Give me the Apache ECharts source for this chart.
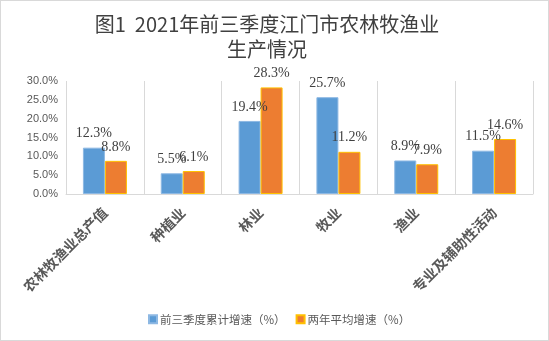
<!DOCTYPE html>
<html><head><meta charset="utf-8">
<script src="https://cdn.jsdelivr.net/npm/echarts@6/dist/echarts.min.js"></script>
<style>
html,body{margin:0;padding:0;background:#fff;}
#c{width:547px;height:339px;border:1px solid #d9d9d9;}
</style></head>
<body><div id="c"></div>
<script>
const categories = ['农林牧渔业总产值','种植业','林业','牧业','渔业','专业及辅助性活动'];
const cumulativeGrowth = [12.3, 5.5, 19.4, 25.7, 8.9, 11.5];
const twoYearAvgGrowth = [8.8, 6.1, 28.3, 11.2, 7.9, 14.6];
const seriesNames = ['前三季度累计增速（%）','两年平均增速（%）'];
const titleText = '图1  2021年前三季度江门市农林牧渔业\n生产情况';

const chart = echarts.init(document.getElementById('c'));
const labelStyle = {
  show: true, position: 'top', distance: 7,
  fontFamily: 'Liberation Serif', fontSize: 14, color: '#404040',
  formatter: p => p.value.toFixed(1) + '%'
};
chart.setOption({
  animation: false,
  title: {
    text: titleText, left: 261, textAlign: 'center', top: 6,
    textStyle: {fontFamily: 'Noto Sans CJK SC', fontWeight: 'normal', fontSize: 20, lineHeight: 25, color: '#404040'}
  },
  grid: {left: 65, right: 15, top: 80, bottom: 146},
  legend: {
    bottom: 10, left: 142, itemWidth: 8, itemHeight: 8, itemGap: 10,
    icon: 'rect',
    textStyle: {fontFamily: 'Noto Sans CJK SC', fontSize: 11.5, color: '#595959', padding: [0, 0, 0, -2]},
    data: seriesNames
  },
  xAxis: {
    type: 'category', data: categories,
    axisLine: {lineStyle: {color: '#d9d9d9'}},
    axisTick: {show: false},
    splitLine: {show: true, lineStyle: {color: '#d9d9d9'}},
    axisLabel: {rotate: 45, margin: 16, interval: 0, fontFamily: 'Noto Sans CJK SC', fontWeight: 'bold', fontSize: 14, color: '#595959'}
  },
  yAxis: {
    type: 'value', min: 0, max: 30, interval: 5,
    axisLine: {show: false}, axisTick: {show: false},
    splitLine: {show: false},
    axisLabel: {fontFamily: 'Liberation Sans', fontSize: 11, color: '#595959', margin: 8, formatter: v => v.toFixed(1) + '%'}
  },
  series: [
    {name: seriesNames[0], type: 'bar', data: cumulativeGrowth, barWidth: 22, barGap: '0%',
     itemStyle: {color: '#5B9BD5', borderColor: '#8DB8E3', borderWidth: 1}, label: labelStyle},
    {name: seriesNames[1], type: 'bar', data: twoYearAvgGrowth, barWidth: 22,
     itemStyle: {color: '#ED7D31', borderColor: '#FFC000', borderWidth: 1}, label: labelStyle}
  ]
});
</script></body></html>
